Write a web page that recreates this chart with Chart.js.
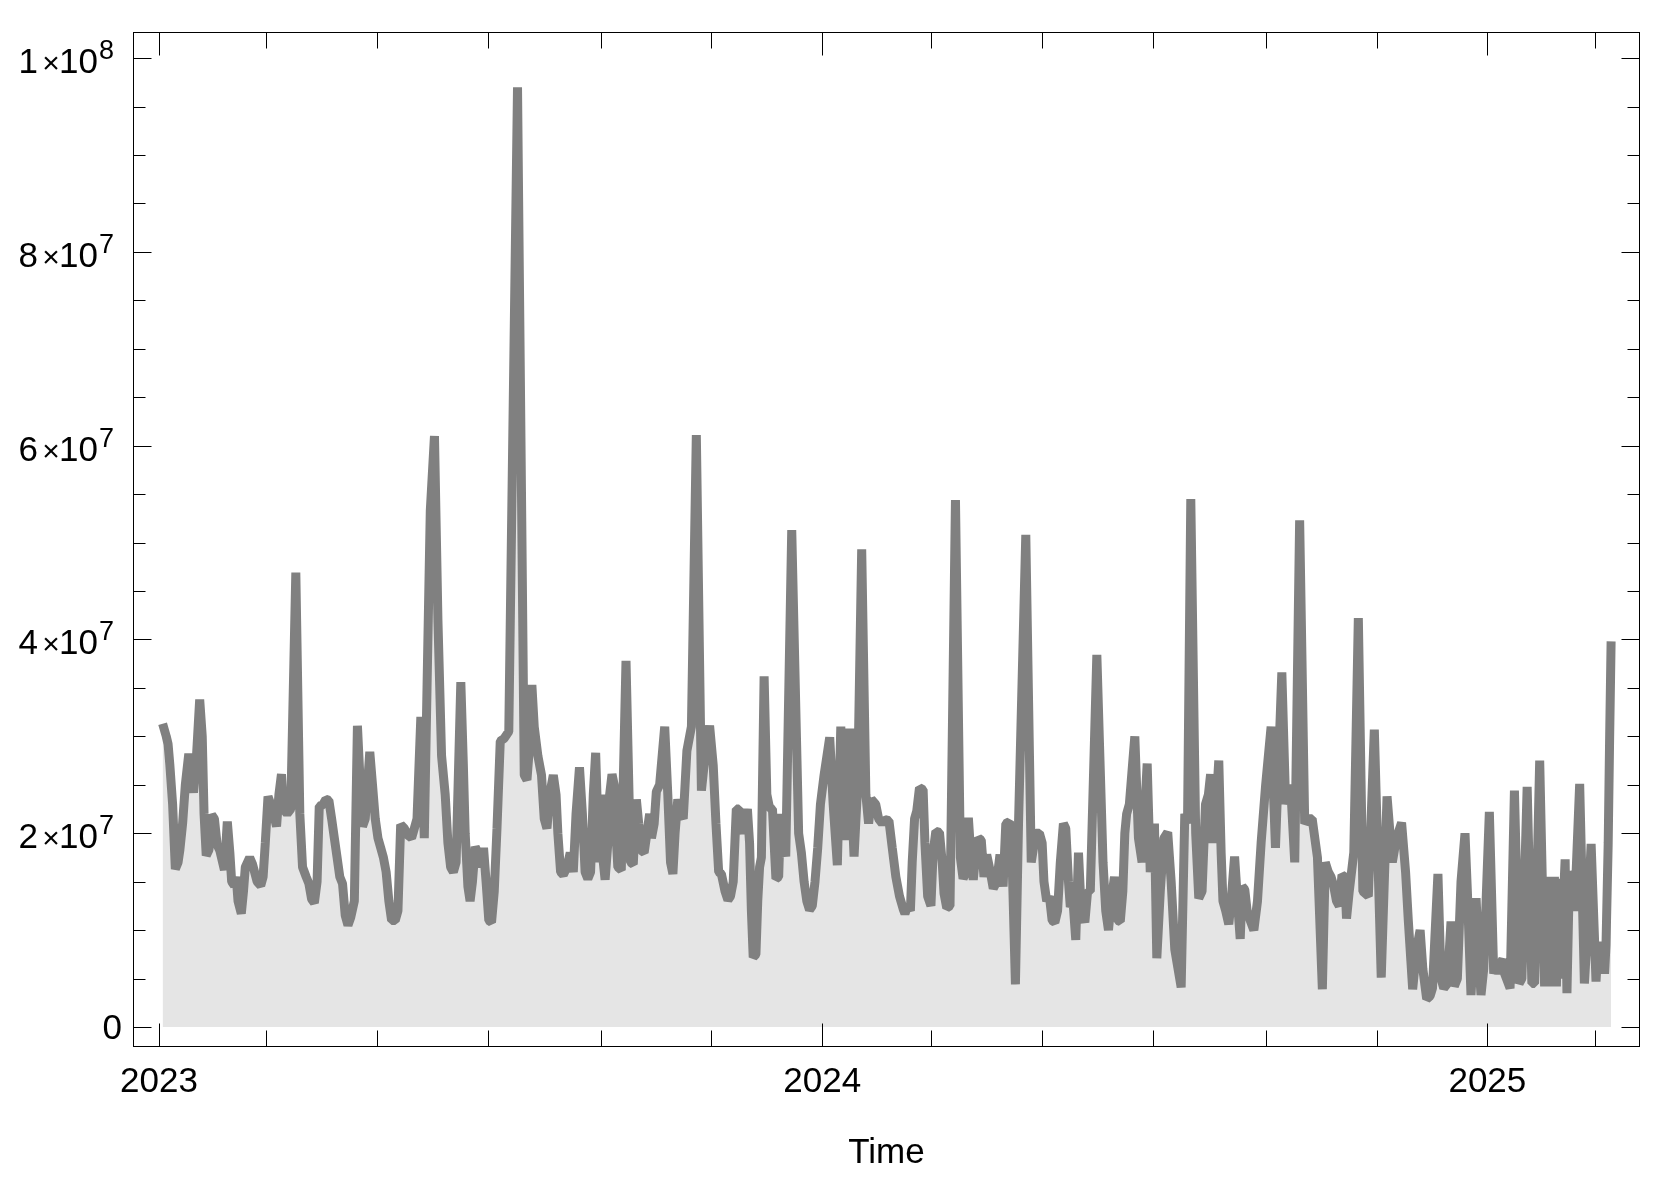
<!DOCTYPE html>
<html>
<head>
<meta charset="utf-8">
<title>Time series</title>
<script src="https://cdn.jsdelivr.net/npm/chart.js@4.4.1/dist/chart.umd.min.js"></script>
<style>
  html, body { margin: 0; padding: 0; background: #fff; }
  #wrap { width: 1664px; height: 1184px; }
</style>
</head>
<body>
<div id="wrap"><canvas id="chart" width="1664" height="1184"></canvas></div>
<script>
(function() {
  'use strict';

  // x: days counted from 2023-01-01, y: values in millions
  var startYear = 2023;
  var days = [
    2, 4, 5, 6, 7.5, 9, 10.5, 11.5, 13, 14.5,
    16.4, 18, 19, 20.5, 22.4, 23.8, 24.8, 26, 27.5, 29,
    30.5, 32, 33.5, 35, 36, 37.6, 39, 40, 41.5, 42.5,
    43.5, 45.3, 46.5, 47.5, 49.9, 51.5, 54, 56, 57.3, 58.5,
    60, 61.5, 63, 64.7, 66, 67.4, 68.5, 70.5, 72.5, 75.3,
    77.5, 79, 81, 82.5, 84, 85.5, 87, 88.2, 90, 91.8,
    93.5, 95, 96.5, 98, 99.5, 101, 102.5, 104, 105.5, 107.5,
    109.2, 110.5, 112, 113.5, 116, 117.5, 119, 120.5, 122, 123.5,
    125, 126.5, 128, 130, 131.5, 133, 135, 137, 139, 140.5,
    142, 144.1, 146, 147.5, 149.3, 151.6, 153.5, 155.5, 157.5, 159,
    160.5, 162, 163.5, 166.1, 167.5, 168.5, 170, 171.2, 172.5, 174,
    175.5, 177, 178.6, 180, 181.5, 183, 184.5, 186, 187.8, 190,
    192.5, 197.3, 201, 202.5, 203.5, 205.2, 206.5, 208.5, 210.5, 212,
    213.5, 215, 217, 218.5, 219.5, 221, 222.5, 224.5, 226.3, 228,
    229.5, 231.4, 233, 234.5, 236, 237.5, 239, 240.3, 241.5, 242.5,
    243.4, 244.5, 245.5, 247, 248, 249.3, 250.5, 251.5, 252.5, 254.4,
    257, 259.5, 261, 262.7, 264, 265.5, 267, 268.5, 270, 271,
    272.5, 273.7, 275.5, 278.3, 280, 281.5, 282.8, 284, 285.5, 287,
    288.5, 290.5, 293, 295.7, 298.5, 300.5, 303, 305, 306.5, 308,
    309.5, 311.5, 313.1, 314.5, 316, 317.7, 319.2, 320.5, 321.5, 323.8,
    325, 326, 327, 328.5, 329.5, 330.5, 331.5, 333, 334.5, 336,
    337.6, 338.5, 339.5, 341, 342.1, 343.5, 344.9, 348.2, 352, 353.5,
    355, 356.5, 358, 359.5, 361, 362.5, 364, 366, 369.1, 371,
    373.3, 375.2, 376.5, 377.9, 379, 380.1, 381.5, 382.5, 384.5, 386.7,
    389, 390.5, 392, 394.4, 396, 398, 399.5, 401.7, 403.5, 405.5,
    407.5, 409.5, 410.5, 412, 413.5, 414.5, 415.8, 417, 418.5, 420.5,
    421.5, 423, 424.8, 426, 427.5, 429.5, 431, 432, 433.5, 435.3,
    438.3, 441, 442.5, 444, 445.4, 447, 448.1, 449.5, 451, 452.5,
    454, 455.5, 457.5, 459.1, 461, 462.8, 464.5, 466, 468, 469.5,
    471.3, 473, 477, 480, 482.5, 484.5, 486, 487, 488.5, 490,
    491.5, 493, 494.5, 496, 497.7, 499, 500.5, 501.5, 503, 504.5,
    506, 507.5, 509.5, 511, 512.5, 516.1, 519.5, 521, 522.5, 524,
    525.8, 527.5, 529, 530.4, 531.5, 532.5, 534, 537, 539, 541,
    543.8, 545.5, 547.8, 549.1, 551, 553, 555.1, 557, 559, 562.5,
    564.5, 566, 567.8, 570.5, 572.2, 574, 575.9, 577.5, 578.7, 580,
    581.5, 583.2, 584.5, 585.5, 587, 588.7, 590, 591.9, 593.5, 595,
    596.1, 597.5, 598.8, 600.5, 602.5, 604.5, 606.5, 609, 612, 614.4,
    617.9, 620, 622.7, 625, 627.7, 630.5, 632.5, 634.6, 637.5, 640.2,
    641.8, 643.5, 645, 646.5, 648, 649.5, 651, 652.5, 653.5, 655,
    657.5, 660, 662.5, 665.5, 668.8, 672.6, 675.8, 678.7, 681, 683.8,
    686, 687.5, 689.9, 692, 694, 695.5, 697.6, 699.5, 700.8, 703.8,
    705.5, 707, 709, 711, 712.8, 714.5, 716.5, 718.7, 720, 722,
    724.8, 726, 727.5, 729, 730.5, 732.1, 734.5, 735.8, 737, 738,
    739.5, 740.5, 743.5, 745.9, 748.5, 750, 752.9, 755.5, 757, 759.8,
    762.5, 763.7, 764.7, 765.8, 766.8, 767.9, 769, 770, 771, 773.8,
    774.8, 776.2, 777.5, 779, 781.8, 784.4, 785.5, 788.1, 790.8, 792,
    793, 794.5, 795.5, 796.3, 797.5, 798.3, 799.1
  ];
  var valuesM = [
    31.3, 30, 29.2, 27, 23, 16.3, 17, 18.3, 21, 25,
    28.2, 25.5, 24.2, 27.5, 33.8, 30, 22, 17.7, 18.3, 21.9,
    21.5, 18.8, 18.2, 17, 16.2, 21.2, 18, 15, 14.6, 15.5,
    13, 11.7, 14, 16.5, 17.5, 16.8, 15, 14.6, 15.5, 19,
    23.8, 23, 22, 20.7, 24, 26.1, 22.5, 22, 22.5, 46.9,
    22, 16.5, 15.5, 14.8, 13.2, 12.8, 15, 22.8, 22.9, 23.5,
    23.4, 21.5, 19.5, 17.5, 15.5, 14.8, 11.5, 10.5, 11.3, 13,
    31.1, 26, 20.7, 21.5, 28.4, 25, 21.5, 19.5, 18.5, 17.5,
    16, 13, 11, 11, 12, 20.9, 20.5, 19.8, 19.5, 20.5,
    21.5, 32, 19.5, 35, 53.3, 61, 42, 28, 24, 19,
    16.5, 16, 17, 35.6, 27, 20, 14.5, 13, 15, 18.6,
    18, 16.5, 18.5, 15, 11, 10.8, 14, 20.5, 29.5, 29.8,
    30.5, 97, 26, 25.5, 28, 35.3, 31, 28, 26, 21.5,
    20.5, 24, 26, 24, 20, 16, 15.7, 16.5, 18, 16,
    22, 26.8, 22, 16, 15.3, 16, 24, 28.3, 21, 17,
    24, 17, 15.2, 19, 24, 26.1, 25, 20, 16.5, 16.2,
    37.8, 17, 16.8, 23.5, 21, 18.2, 18, 20, 22, 19.5,
    21, 24.3, 25, 31, 24, 17, 15.8, 20, 23.5, 22,
    21.5, 28.5, 31, 61.1, 24.4, 28, 31.1, 27, 21, 16,
    15.8, 14, 13.1, 13.5, 15, 22.5, 22.5, 20.5, 20, 22.5,
    19, 12, 7.2, 7.5, 13, 16.5, 17.5, 36.2, 24, 22.6,
    22.5, 19, 15.3, 15.5, 22, 19, 17.6, 51.3, 20, 18,
    15, 13, 12.1, 12.5, 15, 18.5, 23, 26, 29.9, 23,
    16.7, 31, 24, 19.3, 25, 30.8, 22, 17.6, 25, 49.3,
    24, 21, 23.5, 23, 21.5, 21, 21.4, 21.3, 18.5, 15.5,
    13.5, 12.2, 11.7, 12.5, 12, 17, 21.5, 22.3, 24.7, 24.5,
    19, 13.5, 12.5, 18, 20.2, 20.1, 17, 13.8, 12.3, 12.5,
    54.4, 17.5, 15.3, 16, 21.6, 17, 15.2, 18, 19.5, 19.3,
    15.5, 17.8, 16, 14.3, 15, 17.8, 14.5, 21, 21.2, 17,
    4.4, 21, 50.8, 17, 20, 20, 19, 15, 13, 13.5,
    11, 10.8, 12, 17, 21, 20.5, 15, 12.4, 13, 9,
    18, 12, 10.8, 14, 14, 38.4, 17, 12, 10, 13,
    15.5, 11, 10.9, 14, 20, 22, 23, 30, 19.5, 17,
    27.2, 16, 21, 7.1, 14, 19.5, 20.1, 15, 8, 4.1,
    22, 21, 54.5, 20, 13.3, 14, 23, 24, 26.1, 19,
    22, 27.5, 18, 13, 12, 10.6, 13, 17.6, 13, 9.1,
    14.5, 14.2, 12, 11, 10, 13, 19, 25, 31, 18.5,
    36.6, 23, 25, 17, 52.3, 21, 21.5, 21.5, 17.5, 3.9,
    17, 16, 15.5, 14.5, 13, 12.5, 15.7, 15.5, 11.2, 14,
    18, 42.2, 14, 13.5, 30.7, 5.1, 23.8, 17, 19.5, 21.1,
    16, 11, 3.9, 8, 10, 6, 2.9, 3.2, 4, 15.8,
    5, 4, 4.5, 10.9, 4.2, 5, 15, 20, 14, 3.3,
    13.3, 8, 3.3, 6, 14, 22.2, 5.5, 6.5, 5.5, 6.5,
    7, 5.5, 4, 24.4, 4.5, 5, 24.8, 4.5, 4.5, 27.5,
    4.2, 15.3, 4.2, 15.5, 4.2, 15.5, 4.2, 15.3, 5, 17.3,
    3.5, 16, 15.5, 12, 25.1, 4.5, 8, 18.9, 4.7, 8.8,
    6, 8.8, 5.5, 8.5, 19, 30, 39.8
  ];

  var yearLabels = [2023, 2024, 2025];
  var minorMonths = [2, 4, 6, 8, 10];      // Mar, May, Jul, Sep, Nov
  var yMajorTicks = [0, 2e7, 4e7, 6e7, 8e7, 1e8];
  var yMinorStep = 5e6;
  var xMin = -14.3, xMax = 815;
  var yMin = -2.06e6, yMax = 102.7e6;

  var FONT = '"Liberation Sans", Arial, Helvetica, sans-serif';

  function dayOf(y, m) {
    return (Date.UTC(y, m, 1) - Date.UTC(startYear, 0, 1)) / 864e5;
  }

  var points = days.map(function(d, i) { return { x: d, y: valuesM[i] * 1e6 }; });

  var xMajor = yearLabels.map(function(y) { return dayOf(y, 0); });
  var xMinor = [];
  [2022, 2023, 2024, 2025].forEach(function(y) {
    minorMonths.forEach(function(m) {
      var d = dayOf(y, m);
      if (d > xMin && d < xMax) xMinor.push(d);
    });
  });
  var yMinor = [];
  for (var v = 0; v <= yMax; v += yMinorStep) {
    if (yMajorTicks.indexOf(v) < 0) yMinor.push(v);
  }

  function line(ctx, x1, y1, x2, y2) {
    ctx.beginPath();
    ctx.moveTo(x1, y1);
    ctx.lineTo(x2, y2);
    ctx.stroke();
  }

  // "k × 10^n" labels, placed to the left of the frame
  function drawYLabel(ctx, value, frameLeft, yPix) {
    ctx.fillStyle = '#000';
    ctx.textBaseline = 'alphabetic';
    if (value === 0) {
      ctx.font = '35px ' + FONT;
      ctx.textAlign = 'right';
      ctx.fillText('0', frameLeft - 11, yPix + 12);
      return;
    }
    var exp = Math.floor(Math.log10(value) + 1e-9);
    var mant = Math.round(value / Math.pow(10, exp));
    var base = yPix + 15;
    ctx.font = '35px ' + FONT;
    ctx.textAlign = 'right';
    ctx.fillText(String(mant), frameLeft - 95, base);
    ctx.font = '30px ' + FONT;
    ctx.textAlign = 'center';
    ctx.fillText('\u00d7', frameLeft - 82, base);
    ctx.font = '35px ' + FONT;
    ctx.textAlign = 'left';
    ctx.fillText('10', frameLeft - 74, base);
    ctx.font = '27px ' + FONT;
    ctx.fillText(String(exp), frameLeft - 34, base - 14);
  }

  var framePlugin = {
    id: 'frame',
    afterDatasetsDraw: function(chart) {
      var ctx = chart.ctx;
      var a = chart.chartArea;
      var xs = chart.scales.x;
      var ys = chart.scales.y;
      var L = Math.round(a.left) + 0.5, R = Math.round(a.right) - 0.5;
      var T = Math.round(a.top) + 0.5, B = Math.round(a.bottom) - 0.5;
      ctx.save();
      ctx.strokeStyle = '#000';
      ctx.lineWidth = 1;
      ctx.strokeRect(L, T, R - L, B - T);

      xMajor.forEach(function(d) {
        var px = Math.round(xs.getPixelForValue(d)) + 0.5;
        line(ctx, px, B, px, B - 23);
        line(ctx, px, T, px, T + 23);
      });
      xMinor.forEach(function(d) {
        var px = Math.round(xs.getPixelForValue(d)) + 0.5;
        line(ctx, px, B, px, B - 16);
        line(ctx, px, T, px, T + 16);
      });
      yMajorTicks.forEach(function(v) {
        var py = Math.round(ys.getPixelForValue(v)) + 0.5;
        line(ctx, L, py, L + 18, py);
        line(ctx, R, py, R - 18, py);
      });
      yMinor.forEach(function(v) {
        var py = Math.round(ys.getPixelForValue(v)) + 0.5;
        line(ctx, L, py, L + 12, py);
        line(ctx, R, py, R - 12, py);
      });

      yMajorTicks.forEach(function(v) {
        drawYLabel(ctx, v, a.left, ys.getPixelForValue(v));
      });

      ctx.fillStyle = '#000';
      ctx.font = '35px ' + FONT;
      ctx.textAlign = 'center';
      ctx.textBaseline = 'alphabetic';
      xMajor.forEach(function(d, i) {
        ctx.fillText(String(yearLabels[i]), xs.getPixelForValue(d), a.bottom + 45);
      });
      ctx.fillText('Time', (a.left + a.right) / 2, a.bottom + 116);
      ctx.restore();
    }
  };

  new Chart(document.getElementById('chart'), {
    type: 'line',
    data: {
      datasets: [{
        data: points,
        borderColor: '#808080',
        borderWidth: 9,
        borderJoinStyle: 'bevel',
        borderCapStyle: 'butt',
        backgroundColor: '#e5e5e5',
        fill: 'origin',
        pointRadius: 0,
        tension: 0
      }]
    },
    options: {
      responsive: false,
      animation: false,
      devicePixelRatio: 1,
      layout: { padding: { left: 0, right: 24, top: 32, bottom: 0 } },
      plugins: { legend: { display: false }, tooltip: { enabled: false } },
      scales: {
        x: {
          type: 'linear', min: xMin, max: xMax,
          grid: { display: false }, border: { display: false },
          ticks: { display: false },
          afterFit: function(scale) { scale.height = 137; }
        },
        y: {
          type: 'linear', min: yMin, max: yMax,
          grid: { display: false }, border: { display: false },
          ticks: { display: false },
          afterFit: function(scale) { scale.width = 133; }
        }
      }
    },
    plugins: [framePlugin]
  });
})();
</script>
</body>
</html>
